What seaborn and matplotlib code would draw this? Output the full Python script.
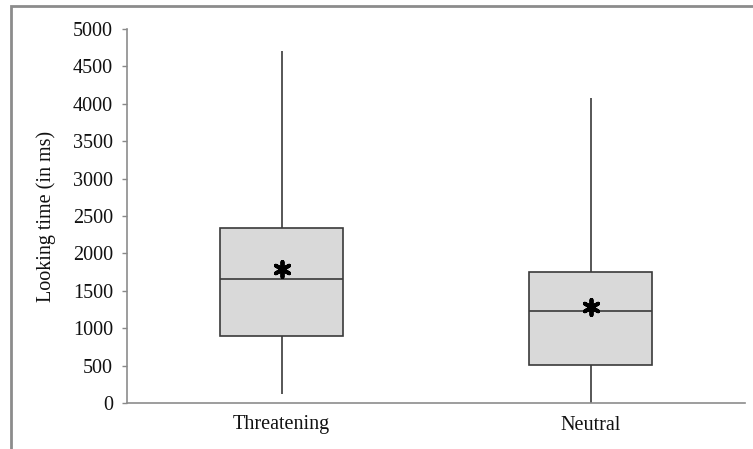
import matplotlib
matplotlib.use("Agg")
import matplotlib.pyplot as plt
import seaborn as sns
import pandas as pd
from matplotlib.patches import Rectangle

# Data
categories = ["Threatening", "Neutral"]
mins = [120, 0]
q1s = [895, 510]
medians = [1655, 1235]
q3s = [2340, 1750]
maxs = [4705, 4075]
means = [1795, 1290]
y_ticks = [0, 500, 1000, 1500, 2000, 2500, 3000, 3500, 4000, 4500, 5000]

# five-number summaries -> rows (linear percentiles reproduce them exactly)
rows = []
for c, a, b, m, d, e in zip(categories, mins, q1s, medians, q3s, maxs):
    for v in (a, b, m, d, e):
        rows.append({"cat": c, "val": v})
df = pd.DataFrame(rows)
mean_df = pd.DataFrame({"cat": categories, "val": means})

sns.set_theme(style="white")
plt.rcParams["font.family"] = ["Liberation Serif", "DejaVu Serif"]

fig = plt.figure(figsize=(7.53, 4.49), dpi=100)
ax = fig.add_axes([127/753, 1-403/449, (745-127)/753, (403-29)/449])

sns.boxplot(data=df, x="cat", y="val", order=categories, ax=ax,
            whis=(0, 100), width=0.4, color="#d9d9d9", saturation=1,
            showcaps=False, linewidth=1.2, linecolor="#3a3a3a",
            fliersize=0)
sns.scatterplot(data=mean_df, x="cat", y="val", ax=ax, marker=(6, 2, 0),
                s=120, color="black", linewidth=2.8, edgecolor="black", zorder=5)

ax.set_xlim(-0.5, 1.5)
ax.set_ylim(0, 5000)
ax.set_yticks(y_ticks)
ax.set_yticklabels([str(t) for t in y_ticks])
ax.set_xlabel("")
ax.set_ylabel("Looking time (in ms)", fontsize=14.5, color="#111111", labelpad=12)
ax.tick_params(axis="y", which="major", direction="out", length=3.6, width=1,
               color="#888888", labelsize=14.5, labelcolor="#111111", pad=6.5, left=True)
ax.tick_params(axis="x", length=0, labelsize=14.5, labelcolor="#111111", pad=9)
for s in ["top", "right"]:
    ax.spines[s].set_visible(False)
for s in ["left", "bottom"]:
    ax.spines[s].set_color("#8c8c8c")
    ax.spines[s].set_linewidth(1.2)

# outer chart frame
fig.patches.append(Rectangle((11/753, -0.2), 1.2, 1 - 6/449 + 0.2,
                             transform=fig.transFigure, fill=False,
                             edgecolor="#8c8c8c", linewidth=2.0))

fig.savefig("out.png", dpi=100)
